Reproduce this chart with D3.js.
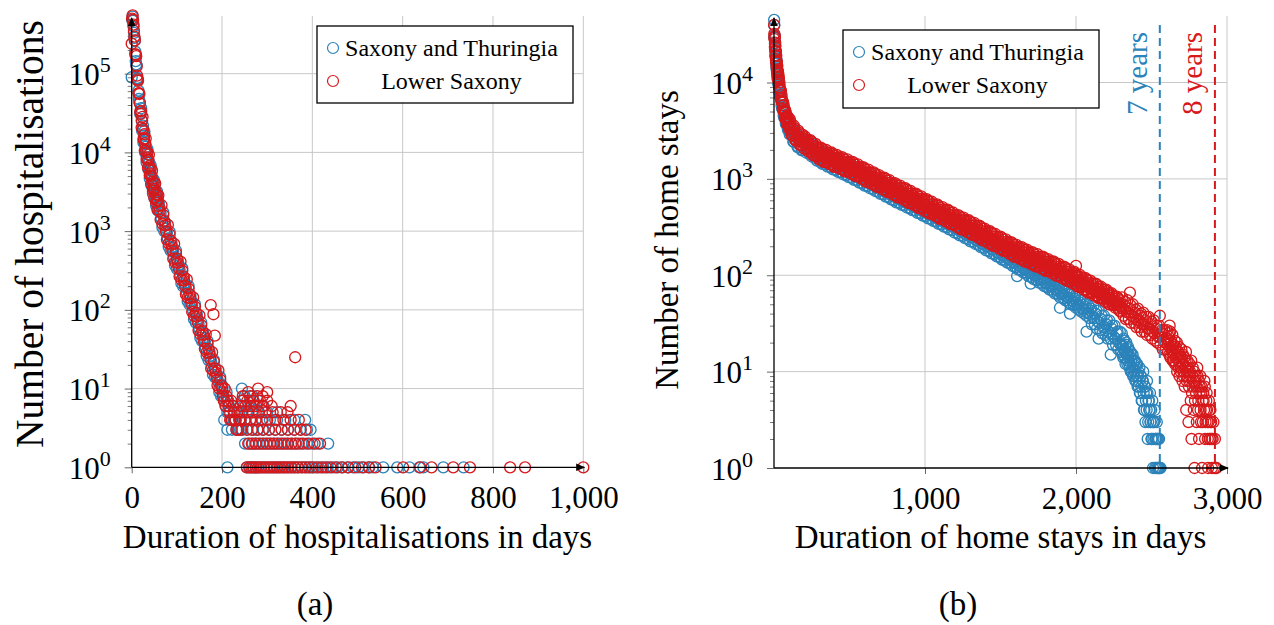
<!DOCTYPE html>
<html>
<head>
<meta charset="utf-8">
<script src="https://cdn.jsdelivr.net/npm/d3@7"></script>
<style>
  body { margin: 0; background: #fff; }
  svg { display: block; }
  text { font-family: "Liberation Serif", "Times New Roman", serif; fill: #000; }
</style>
</head>
<body>
<svg id="fig" width="1274" height="625"></svg>
<script>
// ---------------- data ----------------
const seriesNames = ["Saxony and Thuringia", "Lower Saxony"];

// (a) hospitalisations per duration (days)
const hospDays = [0,1,2,3,4,5,6,7,8,9,10,11,12,13,14,15,16,17,18,19,20,21,22,23,24,25,26,27,28,29,30,31,32,33,34,35,36,37,38,39,40,41,42,43,44,45,46,47,48,49,50,51,52,53,54,55,56,57,58,59,60,
62,64,66,68,70,72,74,76,78,80,82,84,86,88,90,92,94,96,98,100,102,104,106,108,110,112,114,116,118,120,122,124,126,128,130,132,134,136,138,140,142,144,146,148,150,152,154,156,158,160,162,164,166,168,170,172,174,176,178,180,182,184,186,188,190,192,194,196,198,200,202,204,206,208,210,212,214,216,218,220,222,224,226,228,230,232,234,236,238,240];
const hospSaxThu = [90000,480000,530000,470000,400000,330000,285000,
264000,190000,144000,131000,127000,88000,87500,82800,61000,47700,43700,43200,30800,31900,
36400,25500,18900,19300,21900,13300,16300,18500,13000,9840,10100,11800,7490,9450,10900,7900,6070,6350,7420,4680,5880,6830,4900,3770,3960,4660,3000,3830,4490,3300,2580,2760,3280,2110,2710,3200,2340,1820,1940,2300,
1940,1700,1440,1120,1730,1000,1290,1080,950,810,632,975,566,736,620,545,465,367,566,332,431,368,325,276,218,338,198,258,218,193,165,129,200,117,153,129,114,98,76,118,69,90,76,67,57,44,69,40,52,44,39,33,26,40,23,30,26,22,19,15,23,14,18,15,13,12,9,14,8,11,9,8,7,6,9,5,7,6,5,4,4,6,4,5,4,3,3,3,5,3];
const hospLowSax = [240000,500000,550000,480000,420000,350000,295000,
265000,176000,175000,167000,124000,94500,84600,81000,56300,56700,55200,42000,33300,30900,
33400,20700,25200,28300,19800,14600,14900,17000,10500,13100,15000,10700,8200,8600,10100,6400,8090,9360,6700,5130,5380,6270,3980,5040,5850,4220,3260,3480,4120,2670,3420,4030,2950,2300,2460,2920,1890,2420,2850,2080,
1790,1400,2130,1240,1610,1340,1180,994,780,1200,697,909,761,670,570,446,689,404,526,446,394,338,266,410,241,314,266,235,201,158,244,143,186,158,140,119,94,144,84,110,92,82,70,55,85,49,64,54,48,40,32,49,29,37,32,28,24,18,29,17,22,18,16,14,11,17,10,13,11,10,8,7,10,6,8,7,6,5,4,7,4,6,5,4,4,3,5,3,4,4];
// long stays with few cases: [days, count]
const hospTailSaxThu = [[244,10],[250,8],[268,8],[246,7],[262,7],[280,7],[248,6],[258,6],[272,6],[292,6],[243,5],[254,5],[266,5],[280,5],[300,5],[322,5],[205,4],[241,4],[252,4],[264,4],[276,4],[290,4],[306,4],[322,4],[340,4],[360,4],[384,4],[212,3],[222,3],[245,3],[256,3],[268,3],[280,3],[292,3],[304,3],[318,3],[332,3],[346,3],[360,3],[374,3],[388,3],[396,3],[251,2],[260,2],[268,2],[276,2],[284,2],[292,2],[300,2],[308,2],[316,2],[324,2],[334,2],[344,2],[354,2],[364,2],[376,2],[388,2],[400,2],[412,2],[435,2],[212,1],[255,1],[262,1],[268,1],[274,1],[280,1],[286,1],[293,1],[300,1],[307,1],[314,1],[321,1],[328,1],[336,1],[344,1],[352,1],[360,1],[368,1],[377,1],[386,1],[395,1],[404,1],[414,1],[424,1],[434,1],[445,1],[456,1],[467,1],[478,1],[490,1],[502,1],[514,1],[526,1],[534,1],[557,1],[588,1],[615,1],[637,1],[646,1],[690,1],[735,1]];
const hospTailLowSax = [[175,115],[181,88],[184,47],[362,25],[258,9],[280,10],[290,8],[300,9],[246,8],[262,8],[278,8],[244,7],[256,7],[270,7],[284,7],[300,7],[242,6],[252,6],[264,6],[276,6],[290,6],[310,6],[352,6],[245,5],[258,5],[268,5],[282,5],[296,5],[312,5],[330,5],[345,5],[241,4],[250,4],[262,4],[274,4],[288,4],[300,4],[318,4],[336,4],[352,4],[370,4],[243,3],[255,3],[266,3],[278,3],[290,3],[304,3],[318,3],[332,3],[346,3],[360,3],[374,3],[385,3],[258,2],[266,2],[274,2],[282,2],[290,2],[298,2],[306,2],[314,2],[322,2],[330,2],[338,2],[346,2],[354,2],[362,2],[370,2],[380,2],[392,2],[405,2],[417,2],[255,1],[260,1],[265,1],[270,1],[275,1],[280,1],[286,1],[292,1],[298,1],[304,1],[310,1],[316,1],[322,1],[328,1],[334,1],[340,1],[347,1],[354,1],[361,1],[368,1],[376,1],[384,1],[392,1],[400,1],[410,1],[420,1],[430,1],[440,1],[452,1],[465,1],[480,1],[495,1],[510,1],[525,1],[540,1],[601,1],[639,1],[664,1],[712,1],[749,1],[838,1],[871,1],[1000,1]];

// (b) home stays per duration (days)
const homeDays = [1,2,3,4,5,6,7,8,9,10,11,12,13,14,15,16,17,18,19,20,21,22,23,24,25,26,27,28,29,30,
32,34,36,38,40,42,44,46,48,50,52,54,56,58,60,62,64,66,68,70,72,74,76,78,80,82,84,86,88,90,92,94,96,98,100,
104,108,112,116,120,124,128,132,136,140,144,148,152,156,160,164,168,172,176,180,184,188,192,196,200,
205,210,215,220,225,230,235,240,245,250,255,260,265,270,275,280,285,290,295,300,
305,310,315,320,325,330,335,340,345,350,355,360,365,370,375,380,385,390,395,400,
405,410,415,420,425,430,435,440,445,450,455,460,465,470,475,480,485,490,495,500,
505,510,515,520,525,530,535,540,545,550,555,560,565,570,575,580,585,590,595,600,
605,610,615,620,625,630,635,640,645,650,655,660,665,670,675,680,685,690,695,700,
705,710,715,720,725,730,735,740,745,750,755,760,765,770,775,780,785,790,795,800,
805,810,815,820,825,830,835,840,845,850,855,860,865,870,875,880,885,890,895,900,
905,910,915,920,925,930,935,940,945,950,955,960,965,970,975,980,985,990,995,1000,
1005,1010,1015,1020,1025,1030,1035,1040,1045,1050,1055,1060,1065,1070,1075,1080,1085,1090,1095,1100,
1105,1110,1115,1120,1125,1130,1135,1140,1145,1150,1155,1160,1165,1170,1175,1180,1185,1190,1195,1200,
1205,1210,1215,1220,1225,1230,1235,1240,1245,1250,1255,1260,1265,1270,1275,1280,1285,1290,1295,1300,
1305,1310,1315,1320,1325,1330,1335,1340,1345,1350,1355,1360,1365,1370,1375,1380,1385,1390,1395,1400,
1405,1410,1415,1420,1425,1430,1435,1440,1445,1450,1455,1460,1465,1470,1475,1480,1485,1490,1495,1500,
1505,1510,1515,1520,1525,1530,1535,1540,1545,1550,1555,1560,1565,1570,1575,1580,1585,1590,1595,1600,
1605,1610,1615,1620,1625,1630,1635,1640,1645,1650,1655,1660,1665,1670,1675,1680,1685,1690,1695,1700,
1705,1710,1715,1720,1725,1730,1735,1740,1745,1750,1755,1760,1765,1770,1775,1780,1785,1790,1795,1800,
1805,1810,1815,1820,1825,1830,1835,1840,1845,1850,1855,1860,1865,1870,1875,1880,1885,1890,1895,1900,
1905,1910,1915,1920,1925,1930,1935,1940,1945,1950,1955,1960,1965,1970,1975,1980,1985,1990,1995,2000,
2005,2010,2015,2020,2025,2030,2035,2040,2045,2050,2055,2060,2065,2070,2075,2080,2085,2090,2095,2100,
2105,2110,2115,2120,2125,2130,2135,2140,2145,2150,2155,2160,2165,2170,2175,2180,2185,2190,2195,2200,
2205,2210,2215,2220,2225,2230,2235,2240,2245,2250,2255,2260,2265,2270,2275,2280,2285,2290,2295,2300];
const homeSaxThu = [44700,39400,29300,29100,30800,25500,22600,24200,23800,18700,19200,20900,17600,15700,17300,17300,13900,14400,15700,13400,12100,13400,13500,10900,11300,12500,10700,9700,10800,10900,
9410,9570,7880,9190,7230,8210,7080,6790,6970,5810,6820,5410,6210,5380,5190,5410,4550,5390,4320,4990,4370,4260,4460,3770,4510,3660,4260,3740,3670,3850,3280,3940,3200,3740,3300,
2900,3040,3270,3510,3320,2800,2430,2440,2570,2790,3030,2880,2450,2140,2160,2300,2510,2740,2610,2240,1980,2010,2160,2370,2610,
2335,2461,1867,2037,2456,2028,1817,2140,2253,1707,1861,2241,1848,1654,1945,2045,1548,1684,2026,1668,
1501,1776,1878,1429,1565,1894,1570,1412,1669,1764,1342,1469,1777,1471,1322,1562,1650,1255,1372,1659,
1376,1238,1465,1550,1180,1293,1565,1298,1167,1381,1460,1111,1216,1472,1220,1096,1296,1370,1042,1140,
1380,1144,1028,1216,1285,978,1070,1295,1072,964,1139,1203,915,1000,1209,1001,899,1062,1121,851,
932,1129,936,841,995,1052,800,876,1060,878,789,932,985,749,819,991,820,737,870,918,
699,765,926,767,690,815,862,655,717,867,718,645,762,805,612,669,808,669,600,709,
750,571,626,757,628,565,668,707,538,589,713,591,531,628,664,505,552,668,553,497,
588,622,474,519,628,520,468,553,585,445,487,589,488,439,518,548,416,456,551,456,
410,485,513,390,428,517,429,385,456,482,366,401,485,402,361,426,450,342,374,452,
375,337,398,421,320,351,424,351,315,373,394,299,327,396,327,294,347,366,278,304,
368,305,274,324,342,260,285,344,285,256,303,319,243,265,321,265,238,281,297,225,
247,298,247,222,262,277,211,230,278,230,207,244,258,196,214,258,214,192,226,239,
181,198,240,199,178,211,222,169,185,223,185,166,196,206,157,171,207,171,153,181,
191,145,159,192,159,142,168,177,135,147,178,147,132,156,164,125,136,164,136,121,
143,151,115,126,152,126,113,133,140,107,116,141,116,104,123,129,98,107,129,107,
96,113,119,91,99,120,99,89,105,110,84,91,110,91,82,96,101,77,84,101,
83,75,88,93,71,77,93,77,69,81,86,65,71,85,71,63,74,78,59,65,
78,65,58,68,72,55,60,72,59,53,63,66,50,55,66,54,49,57,60,46,
50,60,50,44,52,55,42,45,55,45,40,47,50,38,41,49,41,36,43,45,
31,37,48,36,31,40,43,28,33,43,32,27,35,38,25,29,38,29,24,31,
34,22,26,34,25,22,28,30,19,23,30,22,19,25,26,17,20,26,19,16];
const homeLowSax = [39600,32000,28200,30200,29700,23400,24300,25900,21600,19100,21000,21100,16800,17500,19000,16200,14700,16100,16200,13100,13600,14900,12700,11600,12900,13000,10500,11100,12200,10500,
11300,8900,10000,8600,8250,8400,6980,8200,6460,7400,6400,6160,6340,5310,6270,5050,5830,5090,4950,5150,4320,5170,4190,4860,4270,4190,4410,3740,4490,3640,4260,3760,3710,3910,3330,
4180,3920,3300,2860,2880,3040,3290,3560,3370,2860,2490,2520,2680,2910,3170,3010,2570,2250,2270,2420,2640,2880,2740,2350,2060,
2752,2275,2039,2405,2534,1922,2097,2529,2088,1870,2202,2318,1757,1914,2306,1901,1701,2000,2103,1591,
1744,2112,1752,1577,1866,1975,1504,1647,1995,1654,1488,1760,1861,1416,1551,1877,1555,1398,1653,1747,
1332,1461,1771,1471,1324,1569,1661,1266,1388,1682,1396,1257,1488,1575,1200,1315,1593,1321,1189,1407,
1488,1133,1242,1503,1246,1121,1326,1402,1067,1169,1414,1172,1053,1245,1316,1001,1095,1325,1097,986,
1166,1234,939,1029,1246,1033,929,1098,1161,884,967,1170,970,872,1030,1089,828,906,1095,907,
816,965,1021,777,851,1031,854,768,909,960,731,800,968,802,721,852,900,684,748,905,
750,675,799,844,643,704,852,706,635,751,794,604,661,799,662,595,703,743,565,618,
748,620,557,659,697,531,581,703,582,524,619,654,498,544,658,545,490,579,611,464,
509,616,511,459,543,575,437,479,579,480,432,510,539,410,449,543,450,404,477,504,
384,420,509,422,380,449,475,361,395,479,396,356,421,445,339,371,448,371,333,394,
417,317,348,421,349,314,372,393,299,328,397,329,296,350,370,281,308,372,308,277,
328,347,264,289,349,290,260,308,325,247,271,327,271,243,287,304,231,252,305,252,
227,268,284,216,237,286,237,213,252,267,203,222,268,222,200,236,249,190,207,251,
208,187,221,234,178,195,236,196,176,208,220,167,183,221,183,165,195,206,156,171,
207,172,155,183,194,148,162,196,162,146,173,183,139,152,184,153,137,163,172,131,
143,174,144,130,154,163,124,136,165,137,123,146,154,117,129,156,129,116,138,146,
111,122,147,122,110,130,138,105,115,139,115,104,123,130,99,108,131,109,98,116,
122,93,102,123,102,92,109,115,87,95,115,96,86,102,107,82,89,108,89,80,
95,100,76,83,101,84,75,89,94,71,78,94,78,70,83,88,67,73,88,73,
65,77,82,62,68,82,68,61,72,76,58,63,76,63,57,67,71,54,59,71,
59,53,62,65,50,54,65,54,49,57,60,46,50,60,50,45,52,55,42,46];
// Lower Saxony, further days in between
const homeDaysMid = [208,218,228,238,248,258,268,278,288,298,308,318,328,338,348,358,368,378,388,398,
408,418,428,438,448,458,468,478,488,498,508,518,528,538,548,558,568,578,588,598,
608,618,628,638,648,658,668,678,688,698,708,718,728,738,748,758,768,778,788,798,
808,818,828,838,848,858,868,878,888,898,908,918,928,938,948,958,968,978,988,998,
1008,1018,1028,1038,1048,1058,1068,1078,1088,1098,1108,1118,1128,1138,1148,1158,1168,1178,1188,1198,
1208,1218,1228,1238,1248,1258,1268,1278,1288,1298,1308,1318,1328,1338,1348,1358,1368,1378,1388,1398,
1408,1418,1428,1438,1448,1458,1468,1478,1488,1498,1508,1518,1528,1538,1548,1558,1568,1578,1588,1598,
1608,1618,1628,1638,1648,1658,1668,1678,1688,1698,1708,1718,1728,1738,1748,1758,1768,1778,1788,1798,
1808,1818,1828,1838,1848,1858,1868,1878,1888,1898,1908,1918,1928,1938,1948,1958,1968,1978,1988,1998,
2008,2018,2028,2038,2048,2058,2068,2078,2088,2098,2108,2118,2128,2138,2148,2158,2168,2178,2188,2198,
2208,2218,2228,2238,2248,2258,2268,2278,2288,2298];
const homeLowSaxMid = [2592,2071,2291,2060,2435,1769,2026,2168,1724,1898,
1717,2050,1504,1740,1882,1514,1686,1527,1818,1331,
1542,1672,1348,1506,1367,1632,1199,1388,1503,1210,
1348,1222,1457,1068,1234,1333,1071,1191,1077,1281,
939,1087,1175,945,1052,952,1133,830,957,1033,
831,925,838,999,732,845,913,733,815,736,
878,643,744,804,646,719,650,774,566,653,
705,567,631,572,681,498,575,620,498,553,
501,597,438,506,547,439,489,442,526,384,
444,481,386,430,389,464,339,392,422,339,
377,342,408,299,346,374,301,335,303,360,
264,305,330,265,295,266,317,231,267,287,
230,257,233,277,203,234,253,203,225,204,
243,179,206,222,179,199,180,214,156,181,
196,158,175,159,190,139,161,174,140,156,
141,169,124,144,155,125,140,127,152,111,
128,139,112,124,113,135,99,114,123,99,
110,101,120,88,101,109,87,97,87,104,
77,88,96,77,85,77,91,66,77,83,
67,73,67,80,58,67,72,58,64,57,
68,50,57,62,50,54,49,58,43,48];
// longest home stays: [days, count]
const homeTailSaxThu = [[2305,19],[2310,15],[2315,22],[2320,17],[2325,14],[2330,19],[2335,16],[2340,12],[2345,18],[2350,15],[2355,11],[2360,16],[2365,13],[2370,10],[2375,15],[2380,12],[2385,9],[2390,13],[2395,11],[2400,8],[2405,12],[2410,9],[2415,7],[2420,11],[2425,6],[2430,9],[2435,5],[2440,8],[2445,10],[2450,4],[2455,7],[2460,3],[2465,6],[2470,8],[2475,2],[2480,5],[2485,4],[2490,6],[2495,3],[2500,2],[2505,5],[2510,1],[2515,3],[2520,4],[2525,2],[2530,1],[2535,3],[2540,2],[2545,1],[2550,2],[2555,1],[2560,1],
[2303,25],[2308,18],[2313,14],[2318,21],[2323,16],[2328,12],[2333,20],[2338,15],[2343,13],[2348,17],[2353,12],[2358,14],[2363,10],[2368,15],[2373,11],[2378,9],[2383,13],[2388,10],[2393,8],[2398,12],[2403,9],[2408,7],[2413,10],[2418,8],[2423,6],[2428,9],[2433,7],[2438,5],[2443,8],[2448,6],[2453,4],[2458,7],[2463,5],[2468,4],[2473,6],[2478,3],[2483,5],[2488,4],[2493,3],[2498,4],[2503,2],[2508,3],[2513,2],[2518,3],[2523,1],[2528,2],[2533,2],[2538,1],[2543,2],[2548,1],[2553,1],
[1610,98],[1700,82],[1894,46],[1960,40],[2070,26],[2150,22],[2230,15]];
const homeTailLowSax = [[2305,59],[2310,45],[2315,38],[2320,49],[2325,53],[2330,35],[2335,42],[2340,55],[2345,41],[2350,35],[2355,45],[2360,49],[2365,32],[2370,38],[2375,50],[2380,37],[2385,32],[2390,41],[2395,44],[2400,29],
[2405,34],[2410,45],[2415,34],[2420,29],[2425,38],[2430,40],[2435,26],[2440,31],[2445,41],[2450,31],[2455,26],[2460,34],[2465,37],[2470,24],[2475,28],[2480,37],[2485,28],[2490,24],[2495,31],[2500,33],
[2505,22],[2510,26],[2515,34],[2520,25],[2525,21],[2530,28],[2535,30],[2540,20],[2545,23],[2550,30],[2555,23],[2560,19],[2565,25],[2570,27],[2575,17],[2580,21],[2585,27],[2590,20],[2595,17],[2600,22],
[2605,22],[2610,16],[2615,25],[2620,18],[2625,14],[2630,21],[2635,17],[2640,13],[2645,19],[2650,15],[2655,12],[2660,18],[2665,14],[2670,10],[2675,16],[2680,13],[2685,9],[2690,15],[2695,11],[2700,14],[2705,8],[2710,12],[2715,10],[2720,7],[2725,13],[2730,4],[2735,9],[2740,11],[2745,3],[2750,8],[2755,10],[2760,5],[2765,2],[2770,9],[2775,7],[2780,4],[2785,1],[2790,8],[2795,6],[2800,3],[2805,9],[2810,5],[2815,2],[2820,7],[2825,4],[2830,6],[2835,1],[2840,3],[2845,5],[2850,8],[2855,2],[2860,4],[2865,6],[2870,3],[2875,1],[2880,5],[2885,2],[2890,4],[2895,3],[2900,1],[2905,2],[2910,3],[2915,1],[2920,2],[2925,1],[2930,1],
[2603,27],[2608,19],[2613,23],[2618,15],[2623,26],[2628,20],[2633,16],[2638,24],[2643,18],[2648,13],[2653,21],[2658,17],[2663,12],[2668,20],[2673,15],[2678,11],[2683,18],[2688,14],[2693,10],[2698,17],[2703,12],[2708,15],[2713,9],[2718,14],[2723,11],[2728,16],[2733,8],[2738,13],[2743,10],[2748,7],[2753,12],[2758,9],[2763,13],[2768,6],[2773,11],[2778,8],[2783,10],[2788,5],[2793,9],[2798,7],[2803,11],[2808,4],[2813,8],[2818,6],[2823,9],[2828,3],[2833,7],[2838,5],[2843,6],[2848,4],[2853,7],[2858,3],[2863,5],[2868,4],[2873,2],[2878,3],[2883,4],[2888,2],[2893,3],[2898,2],
[2000,125],[2357,66],[2555,38],[2620,30]];

// axis ticks and reference lines
const hospXTicks = [0, 200, 400, 600, 800, 1000];
const hospYTicks = [1, 10, 100, 1000, 10000, 100000];
const homeXTicks = [1000, 2000, 3000];
const homeYTicks = [1, 10, 100, 1000, 10000];
const yearMarks = [7, 8];
const yearLabels = ["7 years", "8 years"];
const panelLabels = ["(a)", "(b)"];

// ---------------- drawing ----------------
const COL = { blue: "#2b83ba", red: "#d7191c", grid: "#c8c8c8" };
const svg = d3.select("#fig");

const zip = (days, counts) => days.slice(0, counts.length).map((d, i) => [d, counts[i]]);

svg.append("defs").append("marker").attr("id", "arrow")
  .attr("viewBox", "0 0 10 10").attr("refX", 9).attr("refY", 5)
  .attr("markerWidth", 9).attr("markerHeight", 9).attr("markerUnits", "userSpaceOnUse")
  .attr("orient", "auto")
  .append("path").attr("d", "M0,0.8 L10,5 L0,9.2 Z").attr("fill", "#000");

function drawPanel(p) {
  const g = svg.append("g");
  const x = d3.scaleLinear().domain(p.xDomain).range([p.left, p.right]);
  const y = d3.scaleLog().domain(p.yDomain).range([p.bottom, p.top]);

  // major grid
  const grid = g.append("g").attr("stroke", COL.grid).attr("stroke-width", 1);
  grid.selectAll("line.v").data(p.xTicks.filter(v => v > p.xDomain[0])).join("line")
    .attr("x1", d => x(d)).attr("x2", d => x(d)).attr("y1", p.top).attr("y2", p.bottom);
  grid.selectAll("line.h").data(p.yTicks.filter(v => v > p.yDomain[0])).join("line")
    .attr("x1", p.left).attr("x2", p.right).attr("y1", d => y(d)).attr("y2", d => y(d));

  // markers: first series underneath, second on top
  p.series.forEach((pts, i) => {
    g.append("g").attr("fill", "none").attr("stroke", i === 0 ? COL.blue : COL.red)
      .attr("stroke-width", 1.35)
      .selectAll("circle").data(pts).join("circle")
      .attr("cx", d => x(d[0])).attr("cy", d => y(d[1])).attr("r", 5.5);
  });

  // dashed reference lines
  if (p.refs) {
    p.refs.forEach(r => {
      const xv = x(r.years * 365);
      g.append("line").attr("x1", xv).attr("x2", xv).attr("y1", p.top + 9).attr("y2", p.bottom)
        .attr("stroke", r.color).attr("stroke-width", 2).attr("stroke-dasharray", "8,5");
      g.append("text").attr("transform", `translate(${xv - 13},${p.top + 16}) rotate(-90)`)
        .attr("text-anchor", "end").attr("font-size", 29).style("fill", r.color)
        .text(r.label);
    });
  }

  // minor ticks on the log axis
  const minor = [];
  for (let e = 0; e < 7; e++) for (let k = 2; k <= 9; k++) {
    const v = k * Math.pow(10, e);
    if (v < p.yDomain[1]) minor.push(v);
  }
  const yMinor = g.append("g").attr("transform", `translate(${p.left},0)`)
    .call(d3.axisLeft(y).tickValues(minor).tickSize(4).tickFormat(""));
  yMinor.select(".domain").remove();
  yMinor.selectAll("line").attr("stroke", "#555").attr("stroke-width", 0.8);

  // y major ticks and 10^n labels
  const yAx = g.append("g").attr("transform", `translate(${p.left},0)`)
    .call(d3.axisLeft(y).tickValues(p.yTicks).tickSize(7).tickFormat(""));
  yAx.select(".domain").remove();
  yAx.selectAll("line").attr("stroke", "#555").attr("stroke-width", 0.9);
  yAx.selectAll(".tick").append("text")
    .attr("x", -21).attr("y", 11).attr("text-anchor", "end")
    .attr("font-size", 31).style("fill", "#000")
    .each(function (d) {
      const t = d3.select(this);
      t.append("tspan").text("10");
      t.append("tspan").attr("dy", -13).attr("font-size", 22).text(String(Math.round(Math.log10(d))));
    });

  // x ticks and labels
  const xAx = g.append("g").attr("transform", `translate(0,${p.bottom})`)
    .call(d3.axisBottom(x).tickValues(p.xTicks).tickSize(6).tickFormat(d3.format(",")));
  xAx.select(".domain").remove();
  xAx.selectAll("line").attr("stroke", "#555").attr("stroke-width", 0.9);
  xAx.selectAll("text").attr("y", 41).attr("dy", 0).attr("font-size", 31)
    .attr("font-family", null).style("fill", "#000");

  // axis lines with arrow heads
  g.append("line").attr("x1", p.left).attr("x2", p.right + 1).attr("y1", p.bottom).attr("y2", p.bottom)
    .attr("stroke", "#000").attr("stroke-width", 1.3).attr("marker-end", "url(#arrow)");
  g.append("line").attr("x1", p.left).attr("x2", p.left).attr("y1", p.bottom).attr("y2", p.top + 2)
    .attr("stroke", "#000").attr("stroke-width", 1.3).attr("marker-end", "url(#arrow)");

  // axis titles
  g.append("text").attr("x", (p.left + p.right) / 2).attr("y", p.xTitleY)
    .attr("text-anchor", "middle").attr("font-size", 33).text(p.xTitle);
  g.append("text").attr("transform", `translate(${p.yTitleX},${p.yTitleMid}) rotate(-90)`)
    .attr("text-anchor", "middle").attr("font-size", p.yTitleSize).text(p.yTitle);

  // panel caption
  g.append("text").attr("x", p.captionX).attr("y", 615).attr("text-anchor", "middle")
    .attr("font-size", 33).text(p.caption);

  // legend
  const L = p.legend;
  const lg = g.append("g");
  lg.append("rect").attr("x", L.x).attr("y", L.y).attr("width", L.w).attr("height", L.h)
    .attr("fill", "#fff").attr("stroke", "#000").attr("stroke-width", 1.3);
  seriesNames.forEach((name, i) => {
    const cy = L.y + 22 + i * 33;
    lg.append("circle").attr("cx", L.x + 16).attr("cy", cy).attr("r", 5.5)
      .attr("fill", "none").attr("stroke", i === 0 ? COL.blue : COL.red).attr("stroke-width", 1.2);
    lg.append("text").attr("x", L.x + 28 + L.textW / 2).attr("y", cy + 8)
      .attr("text-anchor", "middle").attr("font-size", 24).text(name);
  });
}

drawPanel({
  left: 131.7, right: 583.3, top: 16, bottom: 467.3,
  xDomain: [0, 1000], yDomain: [1, 540000],
  xTicks: hospXTicks, yTicks: hospYTicks,
  series: [zip(hospDays, hospSaxThu).concat(hospTailSaxThu), zip(hospDays, hospLowSax).concat(hospTailLowSax)],
  xTitle: "Duration of hospitalisations in days", xTitleY: 548,
  yTitle: "Number of hospitalisations", yTitleX: 43, yTitleMid: 234, yTitleSize: 39.5,
  caption: panelLabels[0], captionX: 315,
  legend: { x: 317, y: 26, w: 256, h: 77, textW: 213 }
});

drawPanel({
  left: 774, right: 1227, top: 16, bottom: 468,
  xDomain: [0, 3000], yDomain: [1, 49000],
  xTicks: homeXTicks, yTicks: homeYTicks,
  series: [zip(homeDays, homeSaxThu).concat(homeTailSaxThu),
           zip(homeDays, homeLowSax).concat(zip(homeDaysMid, homeLowSaxMid), homeTailLowSax)],
  refs: yearMarks.map((yr, i) => ({ years: yr, label: yearLabels[i], color: i === 0 ? COL.blue : COL.red })),
  xTitle: "Duration of home stays in days", xTitleY: 548,
  yTitle: "Number of home stays", yTitleX: 678, yTitleMid: 240, yTitleSize: 33,
  caption: panelLabels[1], captionX: 958,
  legend: { x: 843, y: 30, w: 256, h: 78, textW: 213 }
});
</script>
</body>
</html>
